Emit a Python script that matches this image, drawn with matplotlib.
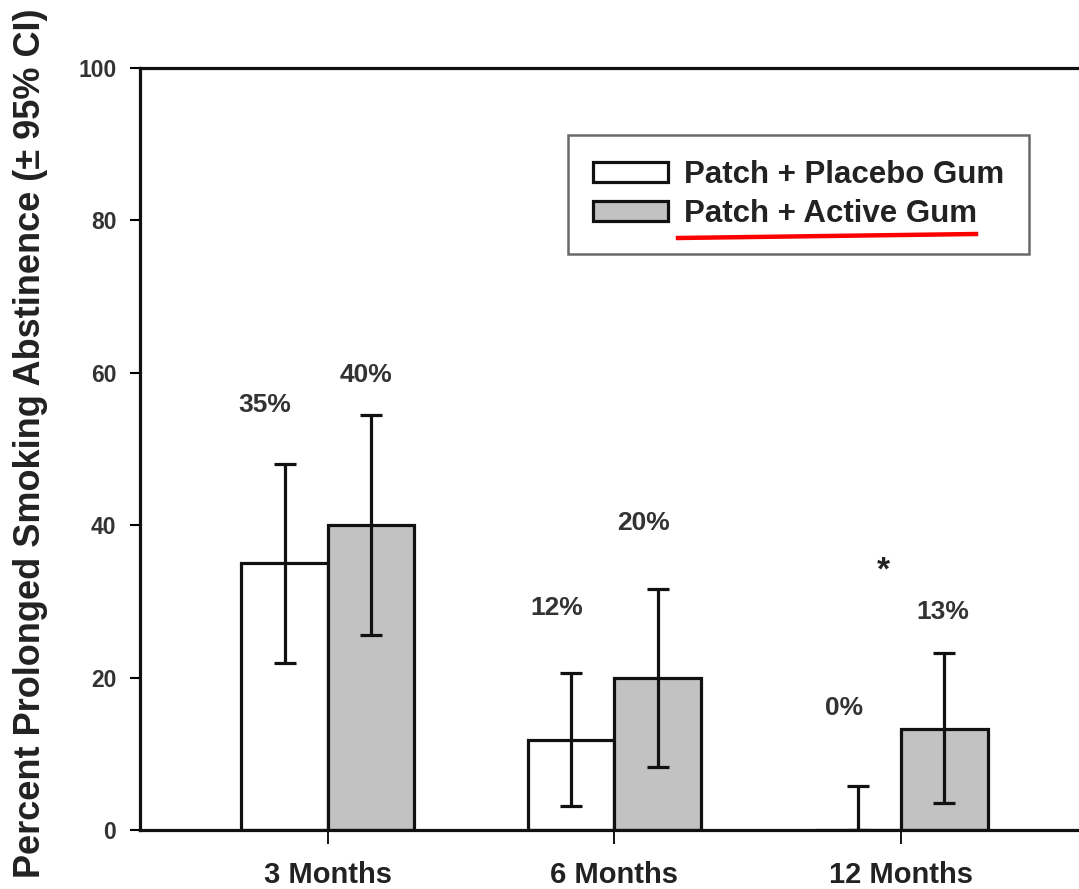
import matplotlib
matplotlib.use("Agg")
import matplotlib.pyplot as plt
from matplotlib.lines import Line2D
from matplotlib.patches import Patch
import numpy as np

# data
groups = ["3 Months", "6 Months", "12 Months"]
series = ["Patch + Placebo Gum", "Patch + Active Gum"]
placebo = [35, 11.8, 0]
active = [40, 20, 13.2]
placebo_lo = [21.9, 3.1, 0]
placebo_hi = [48.0, 20.6, 5.8]
active_lo = [25.6, 8.3, 3.5]
active_hi = [54.5, 31.6, 23.2]
placebo_txt = ["35%", "12%", "0%"]
active_txt = ["40%", "20%", "13%"]

plt.rcParams['font.family'] = ['Liberation Sans', 'DejaVu Sans']
plt.rcParams['font.weight'] = 'bold'

fig = plt.figure(figsize=(10.79, 8.89), dpi=100)
ax = fig.add_axes([0.1297, 0.0664, 0.8796, 0.8571])

x = np.arange(len(groups))
w = 0.302
lw = 2.3

ax.bar(x - w/2, placebo, w, color='white', edgecolor='#111111', linewidth=lw, zorder=2)
ax.bar(x + w/2, active, w, color='#c2c2c2', edgecolor='#111111', linewidth=lw, zorder=2)

p = np.array(placebo)
a = np.array(active)
err_p = [p - np.array(placebo_lo), np.array(placebo_hi) - p]
err_a = [a - np.array(active_lo), np.array(active_hi) - a]
ax.errorbar(x - w/2, p, yerr=err_p, fmt='none', ecolor='#111111', elinewidth=2.3,
            capsize=8, capthick=2.3, zorder=3)
ax.errorbar(x + w/2, a, yerr=err_a, fmt='none', ecolor='#111111', elinewidth=2.3,
            capsize=8, capthick=2.3, zorder=3)

# percent labels (positions picked to match the figure)
p_pos = [(-0.22, 55.8), (0.80, 29.1), (1.80, 16.0)]
a_pos = [(0.133, 59.7), (1.10, 40.3), (2.147, 28.6)]
for (tx, ty), s in zip(p_pos, placebo_txt):
    ax.text(tx, ty, s, ha='center', va='center', fontsize=19, color='#333333')
for (tx, ty), s in zip(a_pos, active_txt):
    ax.text(tx, ty, s, ha='center', va='center', fontsize=19, color='#333333')
ax.text(1.94, 34.0, "*", ha='center', va='center', fontsize=24, color='#222222')

ax.set_xlim(-0.656, 2.656)
ax.set_ylim(0, 100)
ax.set_yticks([0, 20, 40, 60, 80, 100])
ax.set_xticks(x)
ax.set_xticklabels(groups, fontsize=21, color='#222222')
ax.tick_params(axis='y', direction='out', length=7, width=1.5, pad=10,
               labelsize=16.5, labelcolor='#333333')
ax.tick_params(axis='x', direction='out', length=10, width=1.3, pad=12)

for s in ['left', 'bottom', 'top']:
    ax.spines[s].set_linewidth(2.3)
    ax.spines[s].set_color('#111111')
ax.spines['right'].set_visible(False)

fig.text(31/1079, 1 - 443/889, "Percent Prolonged Smoking Abstinence (\u00b1 95% CI)",
         rotation=90, ha='center', va='center', fontsize=26, color='#222222')

handles = [Patch(facecolor='white', edgecolor='#111111', linewidth=2.3),
           Patch(facecolor='#c2c2c2', edgecolor='#111111', linewidth=2.3)]
leg = ax.legend(handles, series, loc='upper left', borderaxespad=0,
                bbox_to_anchor=(568/1079, 1 - 135/889), bbox_transform=fig.transFigure,
                fontsize=22.5, frameon=True, fancybox=False, handlelength=2.4,
                handleheight=0.6, handletextpad=0.5, borderpad=0.8, labelspacing=0.3)
leg.get_frame().set_edgecolor('#444444')
leg.get_frame().set_linewidth(1.8)
for t in leg.get_texts():
    t.set_color('#222222')

# red underline
fig.add_artist(Line2D([678/1079, 976/1079], [1 - 238/889, 1 - 234/889],
                      color='red', linewidth=3.2))

fig.savefig("out.png", dpi=100)
